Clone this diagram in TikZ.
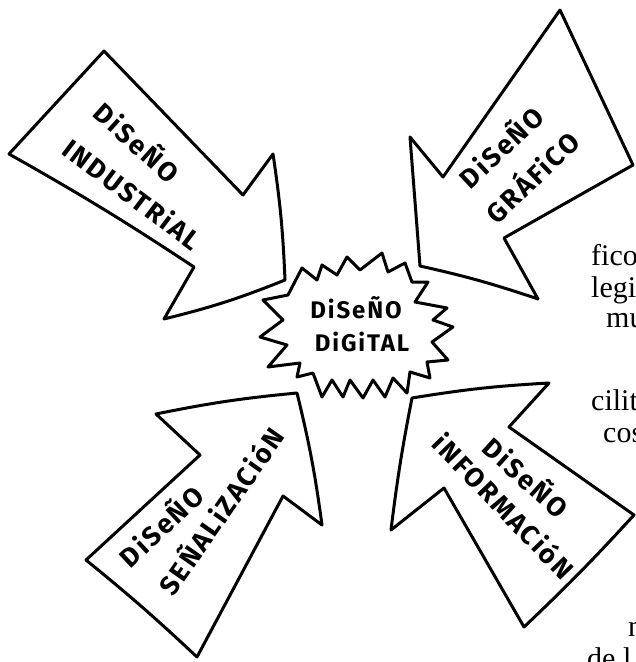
\documentclass[tikz,border=0pt]{standalone}
\usepackage{fontspec}
\setmainfont{Liberation Serif}
\newfontfamily\handfont[LetterSpace=8]{Fira Sans}
\begin{document}
\begin{tikzpicture}[x=1pt,y=-1pt,
  outline/.style={draw=black, fill=white, line width=3pt, line join=round, line cap=round},
  hand/.style={font=\handfont\bfseries\fontsize{27}{30}\selectfont, inner sep=0pt, text height=19pt, text depth=0pt},
  handsmall/.style={font=\handfont\bfseries\fontsize{24}{26}\selectfont, inner sep=0pt, text height=17pt, text depth=0pt},
  booktext/.style={font=\fontsize{30}{33}\selectfont, inner sep=0pt, anchor=base west}]
\useasboundingbox (0,0) rectangle (636,662);
\clip (0,0) rectangle (636,662);

% book text fragments at the right edge
\node[booktext] (t1) at (591,265) {fico};
\node[booktext] (t2) at (591,297) {legil};
\node[booktext] (t3) at (606,327) {mu};
\node[booktext] (t4) at (591,410) {cilit};
\node[booktext] (t5) at (603,442) {cos};
\node[booktext] (t6) at (628,636) {n};
\node[booktext] (t7) at (587,668) {de l};

% arrow 1: industrial (pointing down-right)
\draw[outline] (104,51) -- (243,195) -- (273,154) to[bend left=3] (285,280)
  to[bend left=4] (164,319) -- (194,267) to[bend right=2] (9,154) -- cycle;
% arrow 2: grafico (pointing down-left)
\draw[outline] (560,10) -- (633,165) -- (504,238) -- (538,299)
  to[bend right=3] (420,266) -- (410,137) -- (443,177) -- cycle;
% arrow 3: senalizacion (pointing up-right)
\draw[outline] (297,393) to[bend left=3] (322,525) -- (283,496) -- (197,657)
  to[bend right=2] (86,560) -- (200,455) -- (156,414) to[bend left=3] cycle;
% arrow 4: informacion (pointing up-left)
\draw[outline] (412,398) to[bend left=3] (549,383) -- (509,427) -- (634,515)
  to[bend left=2] (524,627) -- (444,488) -- (391,530) to[bend left=2] cycle;

% starburst
\draw[outline] (263,300) -- (288,295) -- (302,268) -- (317,280) -- (322,265)
  -- (337,275) -- (347,257) -- (360,270) -- (382,253) -- (388,272)
  -- (405,263) -- (412,282) -- (428,282) -- (415,302) -- (447,308)
  -- (433,320) -- (453,327) -- (432,342) -- (448,360) -- (427,362)
  -- (430,378) -- (410,372) -- (407,393) -- (393,378) -- (385,397)
  -- (373,380) -- (363,398) -- (350,380) -- (343,397) -- (332,380)
  -- (322,397) -- (313,373) -- (297,377) -- (300,363) -- (268,367)
  -- (287,345) -- (260,337) -- (283,320) -- cycle;

% labels
\node[hand, rotate=-42] (a1a) at (136,143) {DiSeÑO};
\node[hand, rotate=-37] (a1b) at (132,195) {INDUSTRiAL};
\node[hand, rotate=43] (a2a) at (502,148) {DiSeÑO};
\node[hand, rotate=44] (a2b) at (533,178) {GRÁFiCO};
\node[hand, rotate=43] (a3a) at (162,527) {DiSeÑO};
\node[hand, rotate=55] (a3b) at (222,512) {SEÑALiZACióN};
\node[hand, rotate=-42] (a4a) at (525,478) {DiSeÑO};
\node[hand, rotate=-46] (a4b) at (503,507) {iNFORMACióN};
\node[handsmall] (c1) at (356,310) {DiSeÑO};
\node[handsmall] (c2) at (362,343) {DiGiTAL};
\end{tikzpicture}
\end{document}
